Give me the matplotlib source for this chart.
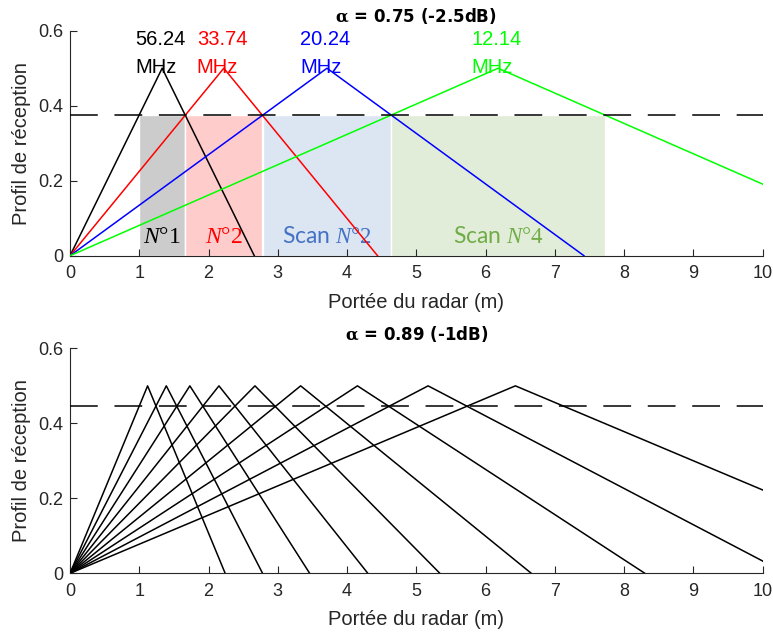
import matplotlib
matplotlib.use('Agg')
import matplotlib.pyplot as plt

plt.rcParams['mathtext.fontset'] = 'custom'
plt.rcParams['mathtext.rm'] = 'Liberation Serif'
plt.rcParams['mathtext.it'] = 'Liberation Serif:italic'
plt.rcParams['mathtext.bf'] = 'DejaVu Serif:bold'
plt.rcParams['font.family'] = ['Liberation Sans', 'DejaVu Sans']
plt.rcParams['lines.scale_dashes'] = False

# ---------------- data ----------------
amplitude = 0.5
alpha_top = 0.75
alpha_bot = 0.89
freqs_top = ['56.24', '33.74', '20.24', '12.14']
peaks_top = [1.33, 2.22, 3.71, 6.18]
colors_top = ['#000000', '#FF0000', '#0000FF', '#00FF00']
scan_labels = [r'$N°1$', r'$N°2$', r'Scan $N°2$', r'Scan $N°4$']
scan_text_colors = ['#000000', '#FF0000', '#4472C4', '#70AD47']
scan_fill_colors = ['#CCCCCC', '#FFCCCC', '#DCE6F2', '#E2EDD9']
peaks_bot = [1.12, 1.39, 1.73, 2.15, 2.67, 3.33, 4.15, 5.17, 6.43]
xticks = list(range(0, 11))
yticks = [0, 0.2, 0.4, 0.6]
ytick_labels = ['0', '0.2', '0.4', '0.6']
title_top = r'$\mathbf{\alpha}$ = 0.75 (-2.5dB)'
title_bot = r'$\mathbf{\alpha}$ = 0.89 (-1dB)'
xlabel = 'Portée du radar (m)'
ylabel = 'Profil de réception'

fig = plt.figure(figsize=(7.73, 6.35), dpi=100)
ax1 = fig.add_axes([0.0906, 0.5973, 0.896, 0.3543])
ax2 = fig.add_axes([0.0906, 0.0971, 0.896, 0.3543])


def style(ax, title):
    ax.set_xlim(0, 10)
    ax.set_ylim(0, 0.6)
    ax.set_xticks(xticks)
    ax.set_xticklabels([str(t) for t in xticks])
    ax.set_yticks(yticks)
    ax.set_yticklabels(ytick_labels)
    for s in ['top', 'right']:
        ax.spines[s].set_visible(False)
    for s in ['left', 'bottom']:
        ax.spines[s].set_color('#262626')
        ax.spines[s].set_linewidth(0.8)
    ax.tick_params(direction='in', length=5, width=0.8, color='#262626',
                   labelsize=13, labelcolor='#262626')
    ax.tick_params(axis='x', pad=7)
    ax.tick_params(axis='y', pad=5)
    ax.set_xlabel(xlabel, fontsize=14.5, color='#262626')
    ax.set_ylabel(ylabel, fontsize=14.5, color='#262626')
    ax.xaxis.set_label_coords(0.5, -0.165)
    ax.yaxis.set_label_coords(-0.056, 0.5)
    ax.set_title(title, fontsize=12, fontweight='bold', family='DejaVu Sans', pad=6)


# ---------------- top ----------------
for i, p in enumerate(peaks_top):
    left = alpha_top * p
    right = (2 - alpha_top) * p
    ax1.fill_between([left, right], [0, 0], [alpha_top * amplitude] * 2,
                     color=scan_fill_colors[i], edgecolor='white', lw=1.0, zorder=1)
    cx = (left + right) / 2
    if scan_labels[i].startswith('Scan'):
        ax1.text(cx, 0.033, scan_labels[i], ha='center', va='baseline', fontsize=16.5,
                 color=scan_text_colors[i], family=['Lato', 'DejaVu Sans'], zorder=3)
    else:
        ax1.text(cx, 0.033, scan_labels[i], ha='center', va='baseline', fontsize=17,
                 color=scan_text_colors[i], zorder=3)

for i, p in enumerate(peaks_top):
    ax1.plot([0, p, 2 * p], [0, amplitude, 0], color=colors_top[i], lw=1.1, zorder=4,
             clip_on=True)
    ax1.text(p - 0.39, 0.562, freqs_top[i], ha='left', va='baseline', fontsize=14.5,
             color=colors_top[i], zorder=5)
    ax1.text(p - 0.39, 0.487, 'MHz', ha='left', va='baseline', fontsize=14.5,
             color=colors_top[i], zorder=5)

ax1.axhline(alpha_top * amplitude, color='black', lw=1.1, dashes=(20, 12), zorder=6)
style(ax1, title_top)

# ---------------- bottom ----------------
for p in peaks_bot:
    ax2.plot([0, p, 2 * p], [0, amplitude, 0], color='black', lw=1.1, zorder=4)
ax2.axhline(alpha_bot * amplitude, color='black', lw=1.1, dashes=(20, 12), zorder=6)
style(ax2, title_bot)

fig.savefig('out.png', dpi=100)
